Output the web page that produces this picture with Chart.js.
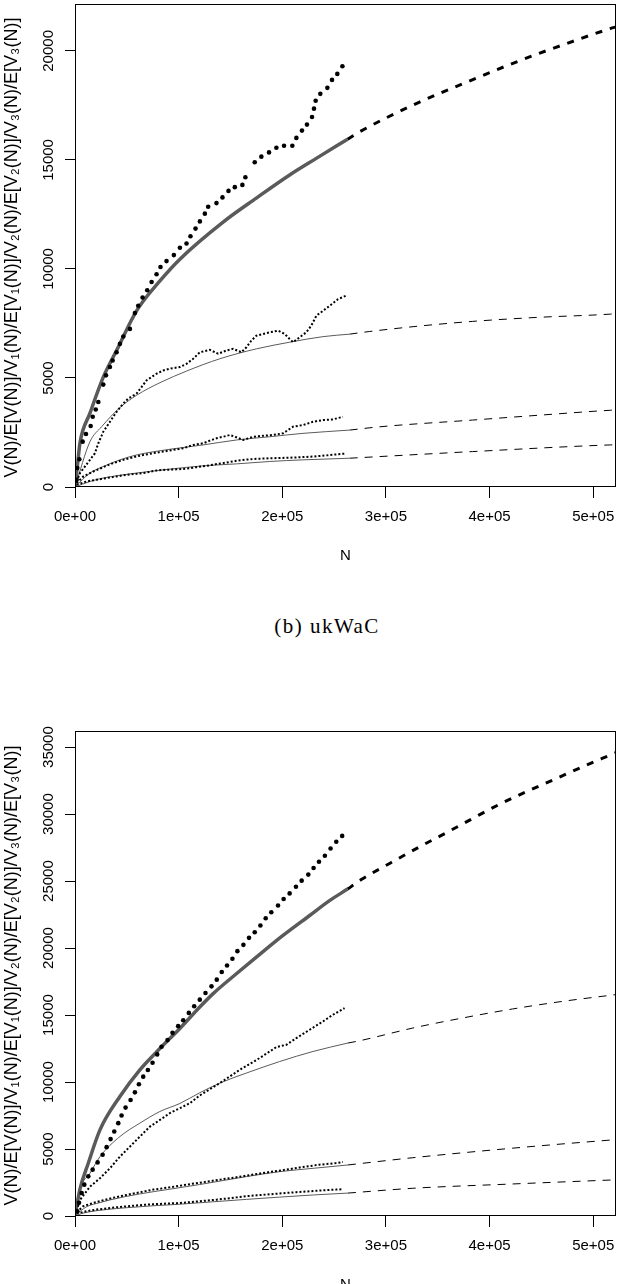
<!DOCTYPE html>
<html>
<head>
<meta charset="utf-8">
<script src="https://cdn.jsdelivr.net/npm/chart.js@4.4.1/dist/chart.umd.min.js"></script>
<style>
  html, body { margin: 0; padding: 0; background: #fff; }
  body { width: 620px; height: 1284px; position: relative; overflow: hidden; }
  .box { position: absolute; left: 0; width: 620px; }
  #caption {
    position: absolute; left: 17px; width: 620px; top: 614px;
    text-align: center; font-family: 'Liberation Serif', 'DejaVu Serif', serif;
    font-size: 21px; letter-spacing: 1.5px; color: #000;
  }
</style>
</head>
<body>
<div class="box" style="top:0;height:600px"><canvas id="chartA"></canvas></div>
<div id="caption">(b) ukWaC</div>
<div class="box" style="top:700px;height:584px"><canvas id="chartB"></canvas></div>

<script>
// ============ SHARED TICKS / LABELS ============
var xTicks = [0, 100000, 200000, 300000, 400000, 500000];
var xTickLabels = ['0e+00', '1e+05', '2e+05', '3e+05', '4e+05', '5e+05'];
var yTicksA = [0, 5000, 10000, 15000, 20000];
var yTicksB = [0, 5000, 10000, 15000, 20000, 25000, 30000, 35000];
var yTitle = 'V(N)/E[V(N)]/V\u2081(N)/E[V\u2081(N)]/V\u2082(N)/E[V\u2082(N)]/V\u2083(N)/E[V\u2083(N)]';
var xTitle = 'N';

// ============ TOP CHART DATA ============
// observed V(N)
var nA_V = [1600, 2250, 4170, 7390, 10600, 15100, 17100, 20000, 22500, 27300, 29900, 33700, 36300, 40100, 43400, 46600, 53000, 57800, 61000, 65200, 69700, 73900, 78700, 82500, 88300, 95400, 101200, 107600, 111400, 116300, 120500, 125300, 128500, 136500, 142300, 148100, 154200, 161500, 164400, 173400, 179800, 187200, 194300, 201700, 209700, 213600, 219000, 223800, 228700, 230600, 232200, 236700, 243500, 248000, 253100, 258000];
var vA_V = [333, 866, 1276, 2080, 2430, 2795, 3220, 3555, 3900, 4695, 5120, 5500, 5800, 6180, 6565, 6900, 7250, 7975, 8310, 8690, 9025, 9400, 9755, 10090, 10360, 10635, 10970, 11170, 11500, 11850, 12180, 12535, 12855, 13020, 13280, 13580, 13750, 13855, 14205, 14890, 15150, 15345, 15555, 15650, 15650, 16010, 16345, 16620, 16970, 17350, 17710, 18030, 18305, 18670, 18945, 19295];
// expected E[V(N)], interpolation and extrapolation
var nA_E = [0, 2250, 4800, 14450, 27300, 40100, 59400, 81900, 101200, 142900, 175000, 207100, 232800, 263000];
var vA_E = [0, 940, 2020, 3385, 5040, 6260, 8080, 9450, 10450, 12150, 13250, 14310, 15070, 15950];
var nA_Ex = [263000, 274600, 332400, 374100, 429000, 486500, 517000, 522000];
var vA_Ex = [15950, 16290, 17650, 18490, 19550, 20540, 21030, 21100];
// V1
var nA_V1 = [1600, 4820, 14450, 19270, 22480, 27300, 33700, 40100, 46600, 51400, 59400, 64200, 69000, 78700, 85100, 91500, 101200, 107600, 114000, 120500, 130100, 138100, 146100, 152500, 160600, 165400, 170200, 175000, 181500, 187900, 195900, 202300, 207100, 210400, 216800, 223200, 228000, 232900, 239300, 245700, 253800, 261200];
var vA_V1 = [250, 640, 1245, 1550, 2005, 2535, 2990, 3445, 3830, 4055, 4285, 4585, 4890, 5195, 5345, 5425, 5500, 5650, 5880, 6180, 6290, 6110, 6260, 6335, 6180, 6410, 6715, 6940, 7020, 7095, 7170, 7020, 6790, 6640, 6865, 7095, 7400, 7855, 8080, 8310, 8615, 8765];
var nA_E1 = [0, 14450, 25700, 43400, 59400, 82000, 107600, 139700, 175000, 207100, 239200, 264900];
var vA_E1 = [0, 2080, 2765, 3645, 4205, 4785, 5315, 5880, 6335, 6640, 6895, 7010];
var nA_E1x = [264900, 284000, 330000, 383700, 444800, 517000, 522000];
var vA_E1x = [7010, 7130, 7370, 7595, 7775, 7930, 7950];
// V2
var nA_V2 = [1600, 8030, 17660, 27300, 36900, 46600, 56200, 65900, 75500, 85100, 94800, 104400, 114000, 123600, 130100, 136500, 142900, 149400, 155700, 162200, 171800, 181500, 191100, 200700, 210400, 220000, 229600, 239300, 248900, 258500];
var vA_V2 = [180, 485, 710, 910, 1095, 1245, 1365, 1470, 1550, 1625, 1700, 1775, 1930, 2005, 2125, 2235, 2305, 2385, 2280, 2155, 2305, 2350, 2385, 2460, 2765, 2840, 2990, 3070, 3100, 3220];
var nA_E2 = [0, 14450, 27300, 43400, 59400, 91500, 123600, 155700, 187900, 220000, 265000];
var vA_E2 = [0, 640, 940, 1245, 1470, 1730, 1930, 2155, 2305, 2460, 2610];
var nA_E2x = [265000, 293800, 383700, 450000, 517000, 522000];
var vA_E2x = [2610, 2760, 3070, 3300, 3520, 3530];
// V3
var nA_V3 = [1600, 11240, 20900, 30500, 40100, 49800, 59400, 69000, 78700, 88300, 97900, 107600, 117200, 126900, 136500, 146100, 155700, 165400, 175000, 184600, 194300, 203900, 213600, 223200, 232900, 242500, 252100, 260200];
var vA_V3 = [105, 255, 333, 410, 485, 560, 605, 665, 760, 790, 810, 840, 910, 970, 1050, 1120, 1200, 1260, 1290, 1310, 1325, 1340, 1355, 1380, 1410, 1450, 1495, 1530];
var nA_E3 = [0, 14450, 27300, 59400, 91500, 123600, 155700, 187900, 220000, 265000];
var vA_E3 = [0, 255, 410, 640, 820, 970, 1060, 1170, 1245, 1320];
var nA_E3x = [265000, 293800, 383700, 517000, 522000];
var vA_E3x = [1320, 1395, 1625, 1930, 1935];

// ============ BOTTOM CHART DATA ============
var nB_V = [2250, 3850, 6420, 8990, 12840, 17020, 21830, 26650, 30500, 34360, 37890, 41740, 44950, 48810, 53620, 57800, 61650, 65830, 70320, 74820, 79310, 83490, 89270, 94080, 99540, 104400, 109800, 115000, 120400, 125900, 131700, 136800, 141600, 146700, 151900, 156700, 162500, 167900, 173400, 178900, 184000, 189400, 195900, 201300, 207100, 213200, 218700, 225100, 230200, 235400, 241100, 246600, 252100, 257800];
var vB_V = [360, 980, 1720, 2340, 2960, 3460, 4000, 4570, 5140, 5740, 6310, 6930, 7500, 8090, 8660, 9230, 9830, 10400, 10900, 11440, 12060, 12630, 13130, 13670, 14170, 14610, 15160, 15660, 16150, 16650, 17140, 17640, 18210, 18700, 19200, 19770, 20240, 20760, 21180, 21680, 22220, 22670, 23170, 23660, 24080, 24580, 25030, 25480, 25970, 26440, 26890, 27430, 27930, 28370];
var nB_E = [0, 4800, 12800, 24100, 43350, 62600, 81900, 101200, 120400, 133300, 155700, 175000, 200700, 226400, 245600, 263000];
var vB_E = [0, 2000, 3940, 6430, 8920, 10910, 12500, 14000, 15600, 16600, 18080, 19320, 20940, 22430, 23540, 24400];
var nB_Ex = [263000, 276200, 303500, 330700, 358100, 383700, 409400, 436700, 464000, 491300, 520200, 522000];
var vB_Ex = [24400, 25110, 26310, 27480, 28600, 29670, 30720, 31710, 32640, 33580, 34530, 34590];
var nB_V1 = [1600, 4800, 14450, 24100, 33700, 43350, 53000, 62600, 72300, 81900, 91500, 101200, 110800, 120400, 139700, 159000, 178200, 194300, 204000, 213600, 226400, 239200, 248800, 260100];
var vB_V1 = [400, 1200, 2190, 2820, 3560, 4430, 5180, 5930, 6670, 7170, 7680, 8050, 8420, 9000, 9920, 10910, 11790, 12610, 12780, 13280, 13900, 14520, 15020, 15520];
var nB_E1 = [0, 4800, 14450, 24100, 43350, 62600, 81900, 101200, 120400, 139700, 165400, 197500, 229600, 263300];
var vB_E1 = [0, 2000, 3190, 4430, 5930, 6930, 7800, 8400, 9200, 9920, 10670, 11530, 12280, 12910];
var nB_E1x = [263300, 274600, 326000, 374000, 422000, 470400, 522000];
var vB_E1x = [12910, 13080, 14030, 14780, 15450, 16020, 16525];
var nB_V2 = [1600, 8000, 17700, 27300, 43400, 59400, 75500, 91500, 107600, 123600, 139700, 155700, 171800, 187800, 203900, 220000, 236000, 252000, 258500];
var vB_V2 = [285, 730, 980, 1180, 1475, 1720, 1970, 2140, 2340, 2520, 2715, 2890, 3090, 3285, 3460, 3660, 3830, 3950, 4030];
var nB_E2 = [0, 5000, 11200, 24100, 33700, 62600, 91500, 120400, 165400, 197500, 230000, 263300];
var vB_E2 = [0, 350, 695, 1000, 1200, 1650, 2000, 2350, 2940, 3310, 3560, 3810];
var nB_E2x = [263300, 326000, 422000, 518600, 522000];
var vB_E2x = [3810, 4350, 5060, 5680, 5700];
var nB_V3 = [1600, 11200, 20900, 30500, 40100, 49800, 59400, 69000, 78700, 88300, 97900, 107600, 117200, 126900, 136500, 146100, 155700, 165400, 175000, 184600, 194300, 203900, 213600, 223200, 232900, 242500, 252100, 258500];
var vB_V3 = [185, 360, 485, 560, 650, 720, 790, 850, 890, 930, 960, 1010, 1080, 1150, 1220, 1300, 1390, 1480, 1540, 1600, 1660, 1720, 1780, 1830, 1880, 1930, 1970, 2000];
var nB_E3 = [0, 5000, 14450, 30000, 50000, 75000, 101200, 133000, 165400, 197500, 230000, 263300];
var vB_E3 = [0, 150, 320, 480, 620, 760, 880, 1060, 1240, 1410, 1570, 1710];
var nB_E3x = [263300, 326000, 422000, 518600, 522000];
var vB_E3x = [1710, 2070, 2390, 2690, 2700];

// ============ HELPERS ============
function pts(ns, vs) {
  return ns.map(function(n, i) { return { x: n, y: vs[i] }; });
}

var GRAY = '#5a5a5a';

function bigDots(ns, vs) {
  return { data: pts(ns, vs), showLine: false, pointRadius: 2.3, pointBackgroundColor: '#000', pointBorderWidth: 0 };
}
function smallDots(ns, vs) {
  return { data: pts(ns, vs), showLine: true, borderColor: '#000', borderWidth: 2, borderDash: [2, 2], borderCapStyle: 'butt', pointRadius: 0, tension: 0 };
}
function curve(ns, vs, w) {
  return { data: pts(ns, vs), showLine: true, borderColor: GRAY, borderWidth: w, pointRadius: 0, cubicInterpolationMode: 'monotone' };
}
function dashed(ns, vs, w, dash) {
  return { data: pts(ns, vs), showLine: true, borderColor: '#000', borderWidth: w, borderDash: dash, borderCapStyle: 'butt', pointRadius: 0, cubicInterpolationMode: 'monotone' };
}

// frame round the plot + rotated y tick labels + axis titles
var framePlugin = {
  id: 'frame',
  afterDraw: function(chart) {
    var ctx = chart.ctx, a = chart.chartArea, ys = chart.scales.y;
    ctx.save();
    ctx.strokeStyle = '#000';
    ctx.lineWidth = 1;
    ctx.strokeRect(a.left + 0.5, a.top + 0.5, a.right - a.left - 1, a.bottom - a.top - 1);

    ctx.fillStyle = '#000';
    ctx.font = "15px 'Liberation Sans', Arial, sans-serif";
    ctx.textAlign = 'center';
    ctx.textBaseline = 'alphabetic';
    chart.options.yTickList.forEach(function(v) {
      var y = ys.getPixelForValue(v);
      ctx.save();
      ctx.translate(53, y);
      ctx.rotate(-Math.PI / 2);
      ctx.fillText(String(v), 0, 0);
      ctx.restore();
    });

    ctx.font = "18px 'Liberation Sans', Arial, sans-serif";
    ctx.save();
    ctx.translate(17, (a.top + a.bottom) / 2 + 2);
    ctx.rotate(-Math.PI / 2);
    ctx.fillText(yTitle, 0, 0);
    ctx.restore();

    ctx.font = "15px 'Liberation Sans', Arial, sans-serif";
    ctx.textBaseline = 'middle';
    ctx.fillText(xTitle, (a.left + a.right) / 2, a.bottom + 69);
    ctx.restore();
  }
};

function makeChart(id, sets, yMax, yTicks, padTop, xAxisH) {
  return new Chart(document.getElementById(id), {
    type: 'scatter',
    data: { datasets: sets },
    plugins: [framePlugin],
    options: {
      yTickList: yTicks,
      responsive: true,
      maintainAspectRatio: false,
      animation: false,
      layout: { padding: { top: padTop, right: 3, left: 0, bottom: 0 } },
      plugins: { legend: { display: false }, tooltip: { enabled: false } },
      scales: {
        x: {
          type: 'linear', min: 0, max: 522000,
          afterBuildTicks: function(s) { s.ticks = xTicks.map(function(v) { return { value: v }; }); },
          afterFit: function(s) { s.height = xAxisH; s.paddingLeft = 0; s.paddingRight = 0; },
          grid: { drawOnChartArea: false, drawTicks: true, tickLength: 11, color: '#000' },
          border: { display: false },
          ticks: {
            autoSkip: false, maxRotation: 0, padding: 10, color: '#000',
            font: { size: 15, family: "'Liberation Sans', Arial, sans-serif" },
            callback: function(v) { var i = xTicks.indexOf(v); return i >= 0 ? xTickLabels[i] : ''; }
          }
        },
        y: {
          type: 'linear', min: 0, max: yMax,
          afterBuildTicks: function(s) { s.ticks = yTicks.map(function(v) { return { value: v }; }); },
          afterFit: function(s) { s.width = 75; s.paddingTop = 0; s.paddingBottom = 0; },
          grid: { drawOnChartArea: false, drawTicks: true, tickLength: 10, color: '#000' },
          border: { display: false },
          ticks: { display: false }
        }
      }
    }
  });
}

document.addEventListener('DOMContentLoaded', function() {
  makeChart('chartA', [
    bigDots(nA_V, vA_V),
    smallDots(nA_V1, vA_V1),
    smallDots(nA_V2, vA_V2),
    smallDots(nA_V3, vA_V3),
    curve(nA_E, vA_E, 3.5),
    curve(nA_E1, vA_E1, 1),
    curve(nA_E2, vA_E2, 1),
    curve(nA_E3, vA_E3, 1),
    dashed(nA_Ex, vA_Ex, 3, [7, 8]),
    dashed(nA_E1x, vA_E1x, 1, [8, 7]),
    dashed(nA_E2x, vA_E2x, 1, [8, 7]),
    dashed(nA_E3x, vA_E3x, 1, [8, 7])
  ], 22150, yTicksA, 1, 113);

  makeChart('chartB', [
    bigDots(nB_V, vB_V),
    smallDots(nB_V1, vB_V1),
    smallDots(nB_V2, vB_V2),
    smallDots(nB_V3, vB_V3),
    curve(nB_E, vB_E, 3.5),
    curve(nB_E1, vB_E1, 1),
    curve(nB_E2, vB_E2, 1),
    curve(nB_E3, vB_E3, 1),
    dashed(nB_Ex, vB_Ex, 3, [7, 8]),
    dashed(nB_E1x, vB_E1x, 1, [8, 7]),
    dashed(nB_E2x, vB_E2x, 1, [8, 7]),
    dashed(nB_E3x, vB_E3x, 1, [8, 7])
  ], 36200, yTicksB, 31, 68);
});
</script>
</body>
</html>
